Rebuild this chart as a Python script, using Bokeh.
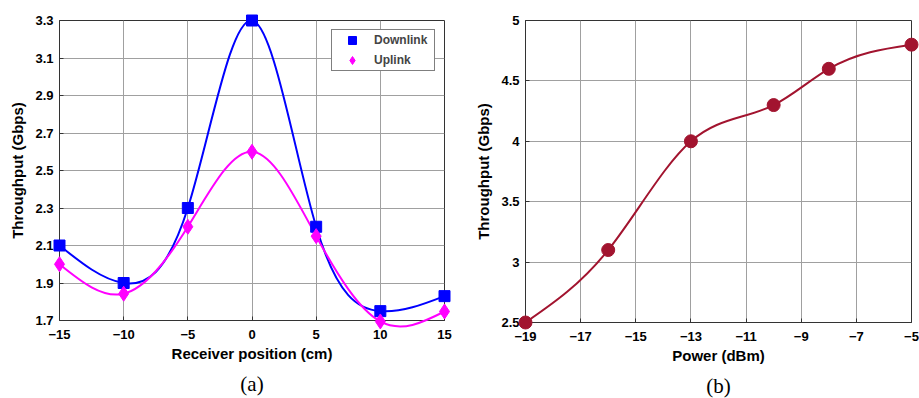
import numpy as np
from bokeh.plotting import figure
from bokeh.layouts import row
from bokeh.models import Title, FixedTicker, Range1d, Legend, LegendItem
from bokeh.embed import file_html
from bokeh.resources import INLINE

# ---- data ----
pos_cm = [-15, -10, -5, 0, 5, 10, 15]
downlink = [2.1, 1.9, 2.3, 3.3, 2.2, 1.75, 1.83]
uplink = [2.0, 1.843, 2.2, 2.6, 2.15, 1.695, 1.748]
left_xticks = [-15, -10, -5, 0, 5, 10, 15]
left_yticks = [1.7, 1.9, 2.1, 2.3, 2.5, 2.7, 2.9, 3.1, 3.3]

power_dbm = [-19, -16, -13, -10, -8, -5]
throughput = [2.5, 3.1, 4.0, 4.3, 4.6, 4.8]
right_xticks = [-19, -17, -15, -13, -11, -9, -7, -5]
right_yticks = [2.5, 3.0, 3.5, 4.0, 4.5, 5.0]

FONT = "Liberation Sans"
SERIF = "Liberation Serif"


def spline_bezier(x, y):
    """Natural cubic spline through the data, expressed as Bezier segments."""
    x = np.asarray(x, float)
    y = np.asarray(y, float)
    n = len(x)
    h = np.diff(x)
    A = np.zeros((n, n))
    b = np.zeros(n)
    A[0, 0] = 1.0
    A[n - 1, n - 1] = 1.0
    for i in range(1, n - 1):
        A[i, i - 1] = h[i - 1]
        A[i, i] = 2 * (h[i - 1] + h[i])
        A[i, i + 1] = h[i]
        b[i] = 6 * ((y[i + 1] - y[i]) / h[i] - (y[i] - y[i - 1]) / h[i - 1])
    M = np.linalg.solve(A, b)
    d = np.zeros(n)
    for i in range(n - 1):
        d[i] = (y[i + 1] - y[i]) / h[i] - h[i] * (2 * M[i] + M[i + 1]) / 6
    d[n - 1] = (y[n - 1] - y[n - 2]) / h[n - 2] + h[n - 2] * (M[n - 2] + 2 * M[n - 1]) / 6
    return dict(
        x0=x[:-1], y0=y[:-1], x1=x[1:], y1=y[1:],
        cx0=x[:-1] + h / 3, cy0=y[:-1] + h * d[:-1] / 3,
        cx1=x[1:] - h / 3, cy1=y[1:] - h * d[1:] / 3,
    )


def style(p, xticks, yticks, xlabel, ylabel, caption, cap_offset):
    p.xaxis.ticker = FixedTicker(ticks=xticks)
    p.yaxis.ticker = FixedTicker(ticks=yticks)
    for ax in (p.xaxis[0], p.yaxis[0]):
        ax.major_label_text_font = FONT
        ax.major_label_text_font_style = "bold"
        ax.major_label_text_font_size = "13px"
        ax.major_label_text_color = "black"
        ax.axis_label_text_font = FONT
        ax.axis_label_text_font_style = "bold"
        ax.axis_label_text_font_size = "15px"
        ax.axis_label_text_color = "black"
        ax.major_tick_in = 4
        ax.major_tick_out = 0
        ax.minor_tick_in = 0
        ax.minor_tick_out = 0
        ax.axis_line_color = "#333333"
        ax.major_tick_line_color = "#333333"
    p.xaxis.axis_label = xlabel
    p.yaxis.axis_label = ylabel
    p.xaxis.major_label_standoff = 9
    p.yaxis.major_label_standoff = 6
    p.xaxis.axis_label_standoff = 3
    p.yaxis.axis_label_standoff = 6
    p.grid.grid_line_color = "#a0a0a0"
    p.grid.grid_line_width = 1
    p.outline_line_color = "#333333"
    p.background_fill_color = "white"
    p.border_fill_color = "white"
    p.add_layout(Title(text=caption, align="center", text_font=SERIF,
                       text_font_size="21px", text_font_style="normal",
                       text_color="black", offset=cap_offset), "below")


# ---- left panel ----
p1 = figure(width=460, height=398, frame_width=385, frame_height=300,
            x_range=Range1d(-15, 15), y_range=Range1d(1.7, 3.3),
            output_backend="svg", toolbar_location=None,
            min_border_left=59, min_border_right=16, min_border_top=20, min_border_bottom=10)
style(p1, left_xticks, left_yticks, "Receiver position (cm)", "Throughput (Gbps)", "(a)", -10)

p1.bezier(**spline_bezier(pos_cm, downlink), line_color="#0000FF", line_width=2, level="overlay")
p1.bezier(**spline_bezier(pos_cm, uplink), line_color="#FF00FF", line_width=2, level="overlay")
r_dl = p1.scatter(pos_cm, downlink, marker="square", size=11, fill_color="#0000FF",
                  line_color="#0000FF", level="overlay")
r_ul = p1.scatter(pos_cm, uplink, marker="diamond", size=15, fill_color="#FF00FF",
                  line_color="#FF00FF", level="overlay")
legend = Legend(items=[LegendItem(label="Downlink", renderers=[r_dl]),
                       LegendItem(label="Uplink", renderers=[r_ul])],
                location="top_right", margin=9, padding=0, spacing=-3,
                label_text_font=FONT, label_text_font_style="bold",
                label_text_font_size="12px", label_height=17, glyph_height=20,
                glyph_width=40, label_standoff=2, label_width=60,
                border_line_color="black", border_line_width=1,
                background_fill_color="white", background_fill_alpha=1)
p1.add_layout(legend, "center")

# ---- right panel ----
p2 = figure(width=459, height=398, frame_width=386, frame_height=302,
            x_range=Range1d(-19, -5), y_range=Range1d(2.5, 5),
            output_backend="svg", toolbar_location=None,
            min_border_left=65, min_border_right=8, min_border_top=18, min_border_bottom=10)
style(p2, right_xticks, right_yticks, "Power (dBm)", "Throughput (Gbps)", "(b)", 4)
p2.yaxis.major_label_overrides = {2.5: "2.5", 3.0: "3", 3.5: "3.5", 4.0: "4", 4.5: "4.5", 5.0: "5"}
p2.bezier(**spline_bezier(power_dbm, throughput), line_color="#A2142F", line_width=2)
p2.scatter(power_dbm, throughput, marker="circle", size=13, fill_color="#A2142F",
           line_color="#A2142F", level="overlay")

layout = row(p1, p2)
open("out.html", "w").write(file_html(layout, INLINE))
